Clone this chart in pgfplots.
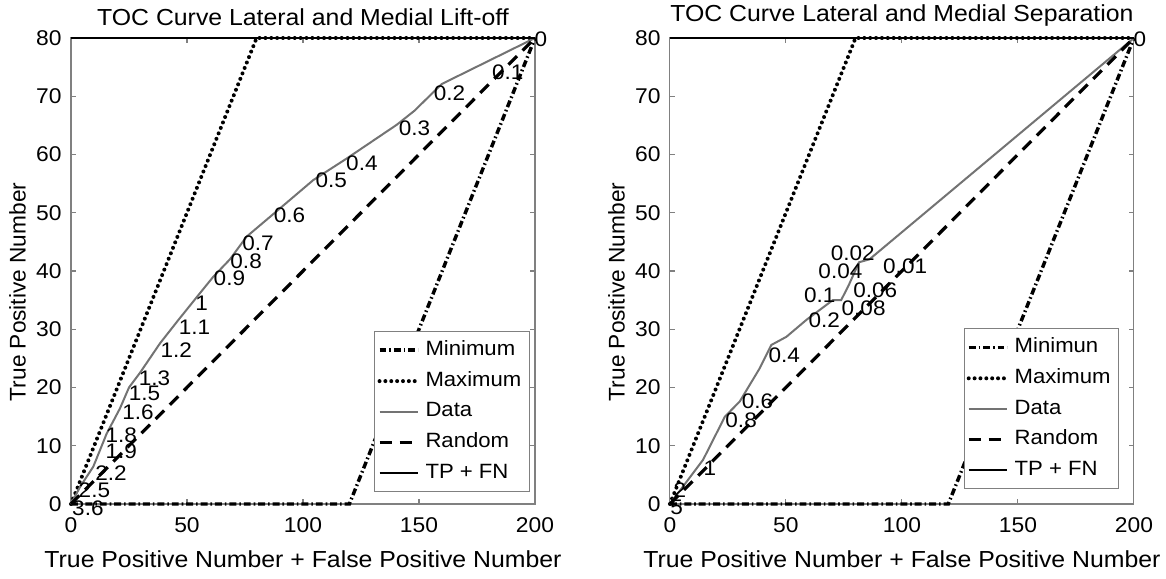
\documentclass[border=0pt]{standalone}
\usepackage{fontspec}
\setmainfont{Liberation Sans}[FakeStretch=1.07]
\newfontfamily\ylfont{Liberation Sans}
\usepackage{pgfplots}
\usepackage{pgfplotstable}
\pgfplotsset{compat=1.18}

\definecolor{datagray}{gray}{0.45}
\definecolor{boxgray}{gray}{0.5}

% left panel: data curve and threshold labels
\pgfplotstableread{
x y
0 0
4 3
9.6 6.4
15.4 12.1
21.1 16.4
25 20
29.7 22.5
38.4 27.6
46.3 31.6
55.6 36.2
61.3 39
68.5 42
75.7 45.9
85.8 49.3
104.4 55.6
118.8 59.3
140.4 65.1
148 67.5
159.8 72.1
200 80
}\liftdata
\pgfplotstableread{
x y label
199.6 79.7 0
181.3 74.2 0.1
156.2 70.5 0.2
141.1 64.5 0.3
118.4 58.5 0.4
105.2 55.6 0.5
87.2 49.6 0.6
73.6 44.8 0.7
68.5 41.6 0.8
61.3 38.7 0.9
53.4 34.5 1
46.3 30.4 1.1
38.4 26.4 1.2
29.0 21.6 1.3
24.7 19.0 1.5
21.9 15.8 1.6
14.7 11.8 1.8
14.7 9.0 1.9
10.3 5.3 2.2
3.1 2.4 2.5
0.3 -0.7 3.6
}\liftlabels

% right panel
\pgfplotstableread{
x y
0 0
14.3 7.6
23.7 15
30.1 17.6
38.7 23.3
43.7 27.3
50.2 28.7
58.8 31.6
70.2 35
73.8 35
77 37.5
81.5 41.5
86 42
200 80
}\sepdata
\pgfplotstableread{
x y label
199.6 79.7 0
91.7 40.9 0.01
69.1 43.0 0.02
63.8 39.9 0.04
78.8 36.7 0.06
73.8 33.6 0.08
57.6 35.9 0.1
59.5 31.6 0.2
42.3 25.6 0.4
30.8 17.6 0.6
23.7 14.4 0.8
14.3 6.1 1
1.4 2.4 2
0 -0.5 5
}\seplabels

\pgfplotsset{
  toc/.style={
    scale only axis, width=174pt, height=174.75pt,
    xmin=0, xmax=200, ymin=0, ymax=80,
    xtick={0,50,...,200}, ytick={0,10,...,80},
    axis line style={boxgray, line width=0.4pt},
    tick style={boxgray, line width=0.4pt},
    tick align=inside, major tick length=2pt,
    ticklabel style={font=\fontsize{8.0}{9}\selectfont},
    /pgf/number format/assume math mode=true,
    xticklabel shift=1.5pt,
    xlabel style={font=\fontsize{8.7}{10}\selectfont},
    ylabel style={font=\ylfont\fontsize{8.5}{10}\selectfont, at={(ticklabel cs:0.455)}},
    ylabel shift=-3pt,
    title style={font=\fontsize{8.7}{10}\selectfont, yshift=-5pt},
    xlabel={True Positive Number + False Positive Number},
    ylabel={True Positive Number},
    clip=false,
    legend cell align=left,
    legend style={draw=boxgray, line width=0.4pt, font=\fontsize{7.75}{9}\selectfont,
      anchor=south east, row sep=0.5pt, inner xsep=1pt, inner ysep=1.5pt},
    legend image code/.code={\draw[##1] (0pt,0pt) -- (14.5pt,0pt);},
  },
  minline/.style={black, line width=1.3pt, dash pattern=on 2.6pt off 1.1pt on 0.6pt off 1.1pt},
  maxline/.style={black, line width=1.5pt, line cap=round, dash pattern=on 0pt off 2.2pt},
  dataline/.style={datagray, line width=0.75pt},
  randline/.style={black, line width=1.2pt, dash pattern=on 4.5pt off 3pt},
  tpline/.style={black, line width=0.8pt},
  thr/.style={draw=none, mark=none, forget plot, nodes near coords,
    point meta=explicit symbolic,
    nodes near coords style={anchor=west, inner sep=0pt, black,
      font=\fontsize{7.9}{9}\selectfont}},
}

\begin{document}
\begin{tikzpicture}
\useasboundingbox (-26.625pt,-28.125pt) rectangle (410.625pt,189pt);

\begin{axis}[toc, at={(0pt,0pt)},
    title={TOC Curve Lateral and Medial Lift-off},
    legend style={at={(0.989,0.026)}}]
\addplot[minline] coordinates {(0,0) (120,0) (200,80)};
\addlegendentry{Minimum}
\addplot[maxline] coordinates {(0,0) (80,80) (200,80)};
\addlegendentry{Maximum}
\addplot[dataline] table {\liftdata};
\addlegendentry{Data}
\addplot[randline] coordinates {(0,0) (200,80)};
\addlegendentry{Random}
\addplot[tpline] coordinates {(0,80) (200,80)};
\addlegendentry{TP + FN}
\addplot[thr] table[meta=label] {\liftlabels};
\end{axis}

\begin{axis}[toc, at={(224.6pt,0pt)},
    title={TOC Curve Lateral and Medial Separation},
    legend style={at={(0.968,0.032)}}]
\addplot[minline] coordinates {(0,0) (120,0) (200,80)};
\addlegendentry{Minimun}
\addplot[maxline] coordinates {(0,0) (80,80) (200,80)};
\addlegendentry{Maximum}
\addplot[dataline] table {\sepdata};
\addlegendentry{Data}
\addplot[randline] coordinates {(0,0) (200,80)};
\addlegendentry{Random}
\addplot[tpline] coordinates {(0,80) (200,80)};
\addlegendentry{TP + FN}
\addplot[thr] table[meta=label] {\seplabels};
\end{axis}
\end{tikzpicture}
\end{document}
